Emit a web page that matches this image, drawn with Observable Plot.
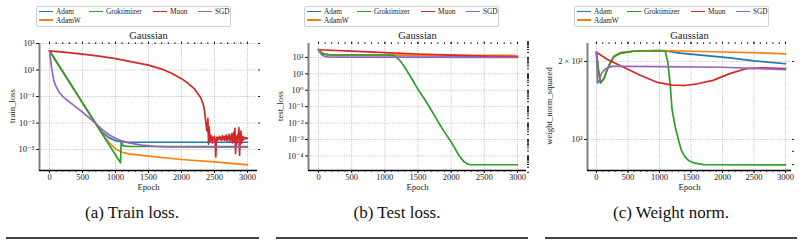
<!DOCTYPE html>
<html><head><meta charset="utf-8">
<script src="https://cdn.jsdelivr.net/npm/d3@7"></script>
<script src="https://cdn.jsdelivr.net/npm/@observablehq/plot@0.6"></script>
<style>
body{margin:0;background:#fff;}
#root{position:relative;width:804px;height:245px;overflow:hidden;font-family:"Liberation Serif","Times New Roman","DejaVu Serif",serif;color:#111;}
.panel{position:absolute;top:0;}
.legend{position:absolute;top:6px;border:1px solid #cfcfcf;border-radius:2px;background:#fff;height:19px;width:193px;font-size:7.3px;color:#222;}
.lt{position:absolute;line-height:9px;white-space:nowrap;}
.sw{position:absolute;height:1.6px;width:14px;}
.caption{position:absolute;font-size:17px;transform:translate(-50%,-50%);white-space:nowrap;color:#111;}
.rule{position:absolute;height:1.6px;background:#444;}
.ylab{position:absolute;font-size:8.7px;white-space:nowrap;transform:translate(-50%,-50%) rotate(-90deg);color:#1a1a1a;line-height:10px;}
</style></head><body><div id="root"></div>
<script>
// ---------- data ----------
const series = ["Adam", "AdamW", "Groktimizer", "Muon", "SGD"];
const colors = ["#1f77b4", "#ff7f0e", "#2ca02c", "#d62728", "#9467bd"];
const epochTicks = [0, 500, 1000, 1500, 2000, 2500, 3000];

// train loss: [epoch, log10(train_loss)]
const trainAdam = [[0,2.45],[100,1.665],[200,0.88],[300,0.094],[400,-0.69],[500,-1.48],[600,-2.26],[700,-3.02],[800,-3.7],[900,-4.1],[1000,-4.33],[1100,-4.43],[1200,-4.45],[3000,-4.45]];
const trainAdamW = [[0,2.45],[100,1.665],[200,0.88],[300,0.094],[400,-0.69],[500,-1.48],[600,-2.26],[700,-3.05],[800,-3.82],[900,-4.45],[1000,-4.95],[1100,-5.2],[1200,-5.33],[1500,-5.5],[2000,-5.75],[2500,-5.93],[3000,-6.16]];
const trainGrok = [[0,2.45],[500,-1.48],[900,-4.62],[1076,-6.0],[1086,-4.45],[1095,-4.65],[1100,-4.55],[1110,-4.7],[1150,-4.74],[1250,-4.77],[3000,-4.77]];
const trainMuon = [[0,2.45],[250,2.33],[500,2.2],[750,2.05],[1000,1.86],[1250,1.62],[1500,1.37],[1700,1.07],[1850,0.75],[2000,0.35],[2100,0.0],[2200,-0.45],[2290,-1.07],[2330,-1.6],[2350,-2.1],[2365,-2.8],[2385,-3.6],
  [2400,-2.65],[2410,-4.6],[2420,-3.3],[2430,-4.4],[2440,-3.9],[2450,-4.3],[2460,-4.0],[2470,-4.5],[2480,-4.1],[2490,-4.25],[2500,-4.0],[2510,-4.35],[2520,-5.55],[2530,-4.2],[2540,-4.05],[2550,-4.3],[2560,-4.1],[2570,-4.2],[2580,-4.0],[2590,-4.25],[2600,-4.1],[2610,-4.3],[2620,-3.95],[2630,-4.2],[2640,-4.05],[2650,-4.3],[2660,-4.0],[2670,-4.25],[2680,-3.9],[2690,-4.35],[2700,-4.05],[2710,-4.2],[2720,-3.85],[2730,-4.4],[2740,-4.0],[2750,-4.25],[2760,-3.8],[2770,-4.5],[2780,-4.1],[2790,-3.7],[2800,-4.4],[2810,-3.4],[2820,-5.3],[2830,-4.0],[2840,-4.6],[2850,-3.9],[2860,-4.2],[2870,-3.35],[2880,-5.45],[2890,-4.1],[2900,-3.6],[2910,-4.55],[2920,-4.0],[2930,-4.3],[2940,-4.05],[2950,-4.2],[2960,-4.1],[2970,-4.2],[2980,-4.1],[2990,-4.15],[3000,-4.15]];
const trainSGD = [[0,2.45],[15,1.8],[30,1.2],[65,0.2],[100,-0.25],[150,-0.7],[212,-1.05],[300,-1.4],[470,-2.06],[600,-2.6],[700,-3.05],[800,-3.5],[900,-3.88],[1000,-4.15],[1100,-4.35],[1200,-4.5],[1400,-4.67],[1600,-4.76],[1800,-4.8],[3000,-4.82]];

// test loss: [epoch, log10(test_loss)]
const testAdam = [[0,2.47],[30,2.35],[80,2.22],[150,2.17],[300,2.15],[1000,2.13],[2000,2.1],[3000,2.06]];
const testAdamW = [[0,2.47],[30,2.35],[80,2.22],[150,2.17],[300,2.15],[1000,2.14],[2000,2.13],[3000,2.12]];
const testGrok = [[0,2.47],[30,2.3],[60,2.22],[100,2.18],[200,2.16],[500,2.15],[1000,2.15],[1100,2.14],[1150,2.1],[1200,1.92],[1250,1.7],[1300,1.4],[1400,0.75],[1500,0.05],[1600,-0.55],[1700,-1.2],[1800,-1.9],[1900,-2.55],[2000,-3.15],[2100,-3.85],[2150,-4.15],[2200,-4.38],[2250,-4.5],[2300,-4.54],[3000,-4.54]];
const testMuon = [[0,2.47],[500,2.38],[1000,2.29],[1500,2.21],[2000,2.14],[2500,2.08],[3000,2.04]];
const testSGD = [[0,2.47],[20,2.3],[50,2.15],[100,2.06],[150,2.03],[300,2.02],[3000,2.0]];

// weight norm squared: [epoch, value]
const normAdam = [[0,217],[30,186],[63,166],[120,172],[168,186],[220,198],[274,209],[379,216],[600,219.5],[1000,220.3],[1100,219.5],[1326,215.3],[2116,206.5],[2500,201],[3000,196]];
const normAdamW = [[0,217],[30,186],[63,166],[120,172],[168,186],[220,198],[274,209],[379,216],[600,219.5],[1000,220.3],[1500,219],[2000,217.5],[2500,216.5],[3000,214]];
const normGrok = [[0,217],[30,186],[63,165],[120,172],[168,185],[220,197],[274,208],[379,215],[600,219],[1000,220],[1090,220],[1130,200],[1168,165],[1200,130],[1250,112],[1300,100],[1350,90.5],[1400,86],[1460,83],[1560,81],[1700,80],[3000,79.8]];
const normMuon = [[0,217],[168,204],[431,190],[695,177],[970,166],[1200,162],[1400,161.5],[1600,164],[1850,169],[2116,179.5],[2370,187.5],[2640,189],[3000,187.5]];
const normSGD = [[0,217],[8,190],[15,165],[40,168],[80,180],[142,187.5],[247,191.4],[500,191.5],[1000,191],[2000,190],[3000,186]];

// tick labels
const trainTicks = [1e3, 1e1, 1e-1, 1e-3, 1e-5];
const trainTickLabels = ["10³", "10¹", "10⁻¹", "10⁻³", "10⁻⁵"];
const testTicks = [1e2, 1e1, 1e0, 1e-1, 1e-2, 1e-3, 1e-4];
const testTickLabels = ["10²", "10¹", "10⁰", "10⁻¹", "10⁻²", "10⁻³", "10⁻⁴"];
const normTicks = [200, 100];
const normTickLabels = ["2 × 10²", "10²"];
const normMinor = [200, 100, 90, 80];
const captions = ["(a) Train loss.", "(b) Test loss.", "(c) Weight norm."];
const yLabels = ["train_loss", "test_loss", "weight_norm_squared"];

// ---------- drawing ----------
const root = document.getElementById("root");
const FONT = "'Liberation Serif', 'Times New Roman', 'DejaVu Serif', serif";
const epochMinor = d3.range(0, 3001, 100);
const testMinor = d3.range(-5, 3).flatMap(k => [1,2,3,4,5,6,7,8,9].map(m => m * Math.pow(10, k)));

function rows(list, isLog) {
  return list.map((arr, i) => arr.map(([e, v]) => ({epoch: e, value: isLog ? Math.pow(10, v) : v, name: series[i]})));
}

function panel(cfg) {
  const lines = cfg.data.map((d, i) => Plot.line(d, {x: "epoch", y: "value", stroke: colors[i], strokeWidth: 1.7, strokeLinejoin: "round", clip: true}));
  const plot = Plot.plot({
    width: cfg.width, height: 195,
    marginLeft: cfg.ml, marginRight: cfg.mr, marginTop: 43, marginBottom: 25,
    style: {fontFamily: FONT, fontSize: "8.5px", color: "#1a1a1a", background: "transparent", overflow: "visible"},
    x: {domain: cfg.xDomain},
    y: {type: "log", domain: cfg.yDomain},
    marks: [
      Plot.gridX({ticks: epochTicks, stroke: "#b8b8b8", strokeOpacity: 1, strokeDasharray: "1.2,1.2", strokeWidth: 0.8}),
      Plot.gridY({ticks: cfg.yTicks, stroke: "#b8b8b8", strokeOpacity: 1, strokeDasharray: "1.2,1.2", strokeWidth: 0.8}),
      ...lines,
      Plot.ruleX([cfg.xDomain[0]], {stroke: "#808080", strokeWidth: 2}),
      Plot.ruleY([cfg.yDomain[0]], {stroke: "#000", strokeWidth: 1.4}),
      Plot.axisX({anchor: "bottom", ticks: epochTicks, tickSize: 3, tickPadding: 0, tickFormat: d => String(d), label: null}),
      Plot.axisX({anchor: "bottom", ticks: epochMinor, tickSize: 1.8, tickFormat: () => "", label: null}),
      Plot.axisX({anchor: "top", ticks: epochMinor, tickSize: 1.8, tickFormat: () => "", label: null}),
      Plot.axisX({anchor: "top", ticks: epochTicks, tickSize: 2.5, tickFormat: () => "", label: null}),
      Plot.axisY({anchor: "left", ticks: cfg.yTicks, tickSize: 3, tickPadding: 2, tickFormat: d => cfg.yTickLabels[cfg.yTicks.indexOf(d)], label: null}),
      Plot.axisY({anchor: "right", ticks: cfg.yRight, tickSize: 2, tickFormat: () => "", label: null}),
      Plot.text(["Gaussian"], {frameAnchor: "top", dy: -12, fontSize: 10.5}),
      Plot.text(["Epoch"], {frameAnchor: "bottom", dy: 19, fontSize: 8.7})
    ]
  });
  const div = document.createElement("div");
  div.className = "panel";
  div.style.left = cfg.left + "px";
  div.appendChild(plot);
  root.appendChild(div);

  // y label
  const yl = document.createElement("div");
  yl.className = "ylab"; yl.textContent = cfg.ylabel;
  yl.style.left = cfg.ylabelX + "px"; yl.style.top = "106px";
  root.appendChild(yl);

  // legend
  const lg = document.createElement("div");
  lg.className = "legend";
  lg.style.left = cfg.legendLeft + "px";
  const place = [[0,0],[0,1],[1,0],[2,0],[3,0]];
  const lineX = [2, 52, 116, 161];
  const textX = [19, 69, 133, 178];
  series.forEach((s, i) => {
    const [c, r] = place[i];
    const cy = r === 0 ? 4.3 : 13;
    const sw = document.createElement("div");
    sw.className = "sw"; sw.style.background = colors[i];
    sw.style.left = lineX[c] + "px"; sw.style.top = (cy - 0.8) + "px";
    const t = document.createElement("div");
    t.className = "lt"; t.textContent = s;
    t.style.left = textX[c] + "px"; t.style.top = (cy - 4.5) + "px";
    lg.appendChild(sw); lg.appendChild(t);
  });
  root.appendChild(lg);

  const cap = document.createElement("div");
  cap.className = "caption"; cap.textContent = cfg.caption;
  cap.style.left = cfg.capX + "px"; cap.style.top = "213px";
  root.appendChild(cap);

  const rule = document.createElement("div");
  rule.className = "rule";
  rule.style.left = cfg.ruleL + "px"; rule.style.width = (cfg.ruleR - cfg.ruleL) + "px"; rule.style.top = "237px";
  root.appendChild(rule);
}

panel({left: 0, width: 268, ml: 39, mr: 11, xDomain: [-152, 3152], yDomain: [Math.pow(10, -6.58), 1e3],
  yTicks: trainTicks, yTickLabels: trainTickLabels, yRight: trainTicks, ylabel: yLabels[0], ylabelX: 12,
  data: rows([trainAdam, trainAdamW, trainGrok, trainMuon, trainSGD], true),
  legendLeft: 36, caption: captions[0], capX: 132, ruleL: 6, ruleR: 259});

panel({left: 270, width: 268, ml: 38, mr: 12, xDomain: [-151, 3136], yDomain: [Math.pow(10, -4.89), Math.pow(10, 2.85)],
  yTicks: testTicks, yTickLabels: testTickLabels, yRight: testMinor, ylabel: yLabels[1], ylabelX: 280,
  data: rows([testAdam, testAdamW, testGrok, testMuon, testSGD], true),
  legendLeft: 304, caption: captions[1], capX: 397, ruleL: 276, ruleR: 528});

panel({left: 535, width: 269, ml: 52, mr: 13, xDomain: [-142, 3095], yDomain: [75.9, 234.6],
  yTicks: normTicks, yTickLabels: normTickLabels, yRight: normMinor, ylabel: yLabels[2], ylabelX: 549,
  data: rows([normAdam, normAdamW, normGrok, normMuon, normSGD], false),
  legendLeft: 574, caption: captions[2], capX: 671, ruleL: 545, ruleR: 797});
</script></body></html>
